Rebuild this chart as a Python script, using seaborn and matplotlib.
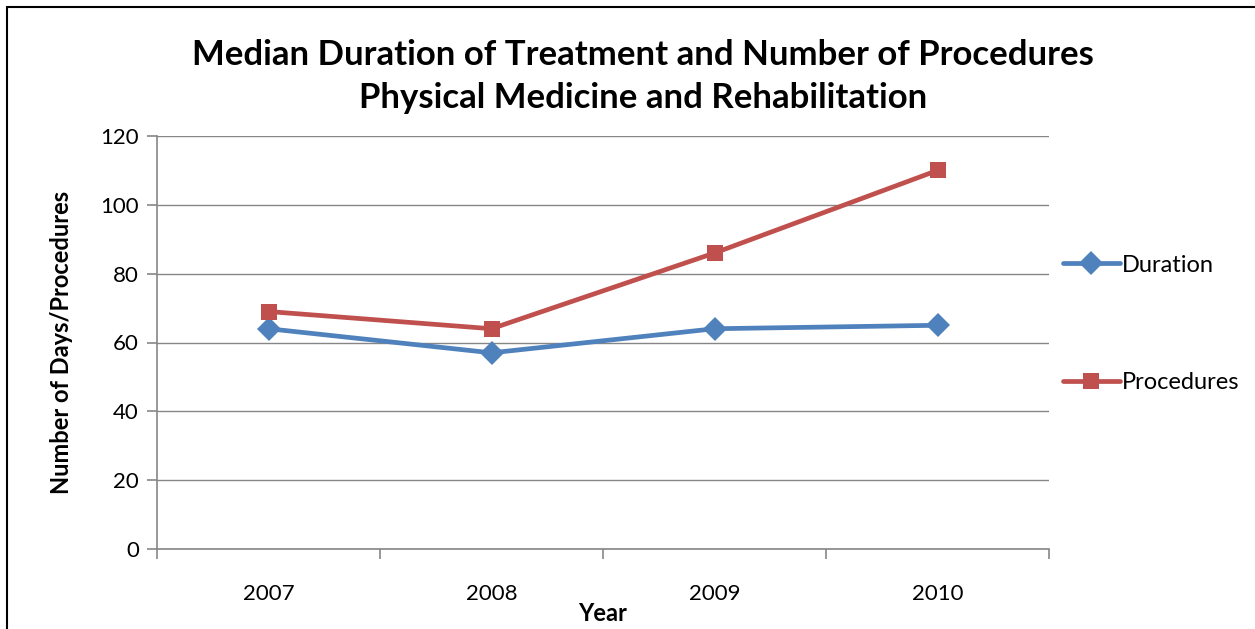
import pandas as pd
import matplotlib.pyplot as plt
import seaborn as sns
from matplotlib.patches import Rectangle

# Datos
years = ['2007', '2008', '2009', '2010']
duration = [64, 57, 64, 65]
procedures = [69, 64, 86, 110]

df = pd.DataFrame({
    'Year': years * 2,
    'Value': duration + procedures,
    'Series': ['Duration'] * 4 + ['Procedures'] * 4,
})

sns.set_style('white')
plt.rcParams['font.family'] = ['Lato', 'DejaVu Sans']
plt.rcParams['text.color'] = 'black'
plt.rcParams['axes.labelcolor'] = 'black'

fig = plt.figure(figsize=(12.55, 6.29), dpi=100)
ax = fig.add_axes([157 / 1255, 1 - 549 / 629, (1049 - 157) / 1255, (549 - 136) / 629])

# borde exterior del grafico
fig.patches.append(Rectangle((7 / 1255, -0.1), 1.2, 1 - 7 / 629 + 0.1,
                             transform=fig.transFigure, fill=False,
                             edgecolor='black', linewidth=1.5))

sns.lineplot(data=df, x='Year', y='Value', hue='Series', style='Series',
             markers={'Duration': 'D', 'Procedures': 's'}, dashes=False,
             palette={'Duration': '#4F81BD', 'Procedures': '#C0504D'},
             linewidth=3.4, markersize=12, markeredgewidth=0, ax=ax)

ax.set_xlim(-0.5, 3.5)
ax.set_ylim(0, 120)
ax.set_yticks(range(0, 121, 20))
ax.yaxis.grid(True, color='#868686', linewidth=1)
ax.set_axisbelow(True)
for s in ['top', 'right']:
    ax.spines[s].set_visible(False)
for s in ['left', 'bottom']:
    ax.spines[s].set_color('#868686')
    ax.spines[s].set_linewidth(1.2)

# marcas del eje x entre categorias
ax.set_xticks([0, 1, 2, 3])
ax.set_xticklabels(years)
ax.set_xticks([-0.5, 0.5, 1.5, 2.5, 3.5], minor=True)
ax.tick_params(axis='x', which='major', length=0, labelsize=16, pad=25, labelcolor='black')
ax.tick_params(axis='x', which='minor', length=7, color='#868686', width=1.2, direction='out', bottom=True)
ax.tick_params(axis='y', length=7, color='#868686', width=1.2, direction='out', labelsize=16, pad=6,
               left=True, labelcolor='black')

ax.set_xlabel('Year', fontsize=17, fontweight='bold', labelpad=-1)
ax.set_ylabel('Number of Days/Procedures', fontsize=17, fontweight='bold', labelpad=20)
ax.set_title('Median Duration of Treatment and Number of Procedures\nPhysical Medicine and Rehabilitation',
             fontsize=25, fontweight='bold', pad=20, linespacing=1.42, x=0.545, color='black')

ax.legend(title=None, frameon=False, loc='center left', bbox_to_anchor=(1.005, 0.545),
          fontsize=17, labelspacing=4.1, handlelength=2.4, handletextpad=0.1,
          borderaxespad=0, labelcolor='black')

plt.savefig('out.png', dpi=100)
